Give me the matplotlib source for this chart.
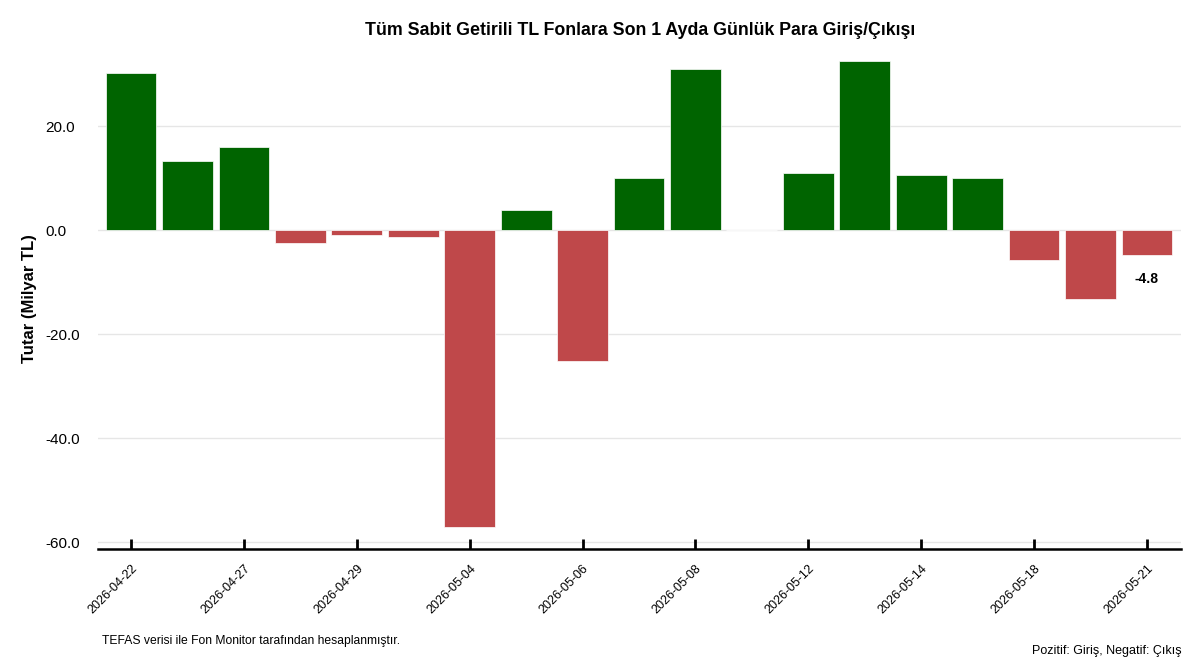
import matplotlib
matplotlib.use("Agg")
import matplotlib.pyplot as plt
import numpy as np

plt.rcParams['font.family'] = ['Liberation Sans', 'DejaVu Sans']

dates = ["2026-04-22", "2026-04-23", "2026-04-27", "2026-04-28", "2026-04-29",
         "2026-04-30", "2026-05-04", "2026-05-05", "2026-05-06", "2026-05-07",
         "2026-05-08", "2026-05-11", "2026-05-12", "2026-05-13", "2026-05-14",
         "2026-05-15", "2026-05-18", "2026-05-20", "2026-05-21"]
values = [30.2, 13.3, 16.0, -2.5, -1.0, -1.3, -57.1, 3.8, -25.2, 10.0,
          31.0, 0.0, 11.0, 32.5, 10.6, 10.0, -5.8, -13.3, -4.8]
yticks = [-60, -40, -20, 0, 20]

pos_color = "#006400"
neg_color = "#bf484a"

fig = plt.figure(figsize=(12, 6.67), dpi=100)
ax = fig.add_axes([0.0817, 0.177, 0.9023, 0.751])

x = np.arange(len(values))
colors = [pos_color if v >= 0 else neg_color for v in values]
ax.bar(x, values, width=0.9, color=colors, edgecolor="white", linewidth=0.5, zorder=3)

ax.set_xlim(-0.585, len(values) - 1 + 0.6)
ax.set_ylim(-61.3, 35)
ax.set_yticks(yticks)
ax.set_yticklabels([f"{t:.1f}" for t in yticks], fontsize=11, ha='left')
for t in yticks:
    ax.axhline(t, color="#e6e6e6", linewidth=1, zorder=0)
ax.tick_params(axis='y', length=0, pad=38)

ax.set_xticks(x[::2])
ax.set_xticklabels(dates[::2], rotation=45, ha='right', rotation_mode='anchor', fontsize=9)
ax.tick_params(axis='x', direction='in', length=7, width=2, color='black', pad=10)

for s in ["top", "right", "left"]:
    ax.spines[s].set_visible(False)
ax.spines["bottom"].set_linewidth(1.8)
ax.spines["bottom"].set_color("black")
ax.spines["bottom"].set_zorder(5)

ax.set_ylabel("Tutar (Milyar TL)", fontsize=12, fontweight='bold', labelpad=6)

# label last value
last = values[-1]
ax.annotate(f"{last:.1f}", xy=(x[-1], last), xytext=(0, -17.5), textcoords='offset points',
            ha='center', va='center', fontsize=10, fontweight='bold')

fig.text(0.5333, 0.955, "Tüm Sabit Getirili TL Fonlara Son 1 Ayda Günlük Para Giriş/Çıkışı",
         ha='center', va='center', fontsize=12.75, fontweight='bold')
fig.text(0.085, 0.039, "TEFAS verisi ile Fon Monitor tarafından hesaplanmıştır.",
         ha='left', va='center', fontsize=8.75)
fig.text(0.985, 0.024, "Pozitif: Giriş, Negatif: Çıkış",
         ha='right', va='center', fontsize=9)

fig.savefig("out.png", dpi=100, facecolor="white")
